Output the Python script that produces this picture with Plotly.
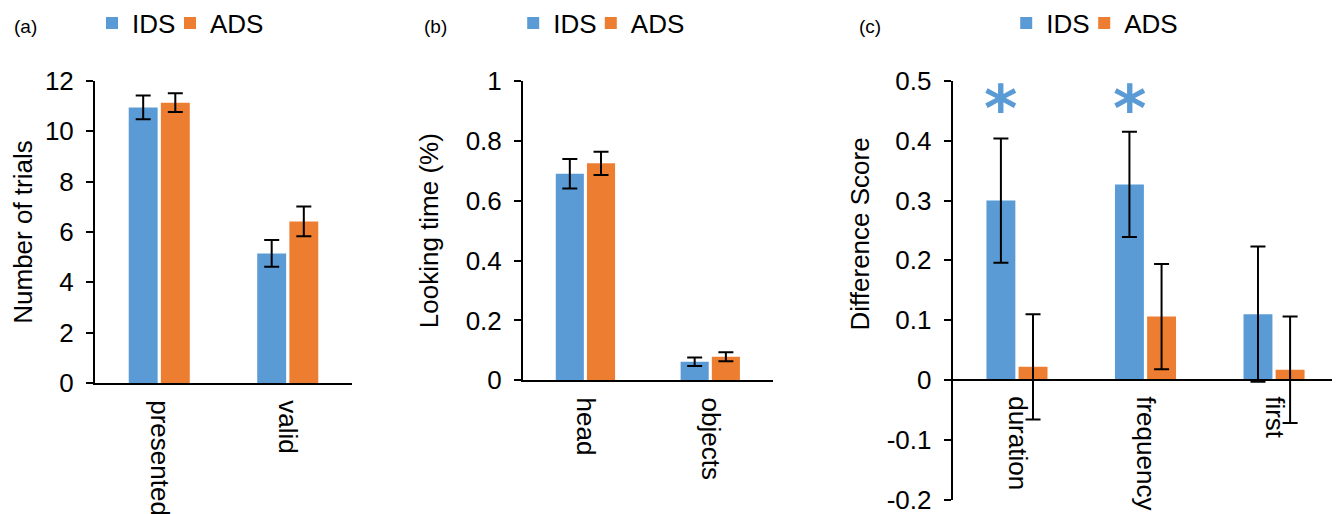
import plotly.graph_objects as go

# ---------------- data ----------------
series = ["IDS", "ADS"]
colors = ["#5B9BD5", "#ED7D31"]

cats_a = ["presented", "valid"]
ids_a = [10.95, 5.15]
ads_a = [11.14, 6.42]
ids_a_err = [0.47, 0.53]
ads_a_err = [0.37, 0.59]

cats_b = ["head", "objects"]
ids_b = [0.690, 0.062]
ads_b = [0.725, 0.079]
ids_b_err = [0.049, 0.014]
ads_b_err = [0.039, 0.015]

cats_c = ["duration", "frequency", "first"]
ids_c = [0.300, 0.327, 0.110]
ads_c = [0.022, 0.106, 0.017]
ids_c_err = [0.104, 0.088, 0.113]
ads_c_err = [0.088, 0.088, 0.089]

sig_cats = ["duration", "frequency"]   # IDS significant
sig_level = 0.473

yticks_a = [0, 2, 4, 6, 8, 10, 12]
yticks_b = [0, 0.2, 0.4, 0.6, 0.8, 1]
ylabels_b = ["0", "0.2", "0.4", "0.6", "0.8", "1"]
yticks_c = [-0.2, -0.1, 0, 0.1, 0.2, 0.3, 0.4, 0.5]
ylabels_c = ["-0.2", "-0.1", "0", "0.1", "0.2", "0.3", "0.4", "0.5"]

panel_labels = ["(a)", "(b)", "(c)"]
ytitles = ["Number of trials", "Looking time (%)", "Difference Score"]

# ---------------- figure ----------------
FONT = "Liberation Sans, Arial, Helvetica, sans-serif"
FS = 26
PAGE_OFF = 8                      # default body margin of the html page
W, H = 1340 - PAGE_OFF, 514 - PAGE_OFF
fig = go.Figure()

# one single-entry legend per series and panel
legend_ids = [["legend", "legend2"], ["legend3", "legend4"], ["legend5", "legend6"]]
legend_px = [[92, 170], [513.2, 590.8], [1006.2, 1084.2]]

panels = [
    (cats_a, [ids_a, ads_a], [ids_a_err, ads_a_err], "x", "y"),
    (cats_b, [ids_b, ads_b], [ids_b_err, ads_b_err], "x2", "y2"),
    (cats_c, [ids_c, ads_c], [ids_c_err, ads_c_err], "x3", "y3"),
]
for (cats, vals, errs, xa, ya), lgs in zip(panels, legend_ids):
    for s, v, e, c, lg in zip(series, vals, errs, colors, lgs):
        fig.add_trace(go.Bar(
            name=s, x=cats, y=v, xaxis=xa, yaxis=ya, legend=lg,
            marker=dict(color=c, line=dict(width=0)),
            error_y=dict(type="data", array=e, visible=True,
                         color="black", thickness=2, width=7.5),
        ))

def px_x(p):
    return (p - PAGE_OFF) / W

def px_y(p):
    return 1 - (p - PAGE_OFF) / H

axis_common = dict(showgrid=False, zeroline=False, showline=True,
                   linecolor="black", linewidth=2, automargin=False,
                   ticklabeloverflow="allow",
                   tickfont=dict(family=FONT, size=FS, color="black"))

yaxis_common = dict(axis_common, ticks="outside", ticklen=7, tickwidth=2,
                    tickcolor="black", ticklabelstandoff=7)
xaxis_common = dict(axis_common, ticks="", tickangle=90, ticklabelstandoff=10)

fig.update_layout(
    width=W, height=H,
    margin=dict(l=0, r=0, t=0, b=0, autoexpand=False),
    paper_bgcolor="white", plot_bgcolor="white",
    barmode="group", bargap=0.5, bargroupgap=0.1,
    font=dict(family=FONT, size=FS, color="black"),
    showlegend=True,
    xaxis=dict(xaxis_common, domain=[px_x(95), px_x(352)], anchor="y"),
    yaxis=dict(yaxis_common, domain=[px_y(383), px_y(81)], anchor="x",
               range=[0, 12], tickvals=yticks_a,
               title=dict(text=ytitles[0], standoff=16,
                          font=dict(family=FONT, size=FS))),
    xaxis2=dict(xaxis_common, domain=[px_x(523), px_x(772.7)], anchor="y2"),
    yaxis2=dict(yaxis_common, domain=[px_y(380.3), px_y(81)], anchor="x2",
                range=[0, 1], tickvals=yticks_b, ticktext=ylabels_b,
                title=dict(text=ytitles[1], standoff=20,
                           font=dict(family=FONT, size=FS))),
    xaxis3=dict(xaxis_common, domain=[px_x(952.7), px_x(1338.3)],
                anchor="free", position=px_y(380)),
    yaxis3=dict(yaxis_common, domain=[px_y(499.5), px_y(81)], anchor="x3",
                range=[-0.2, 0.5], tickvals=yticks_c, ticktext=ylabels_c),
)

legend_common = dict(orientation="h", xanchor="left", yanchor="middle",
                     font=dict(family=FONT, size=FS, color="black"),
                     bgcolor="rgba(0,0,0,0)", borderwidth=0,
                     itemclick=False, itemdoubleclick=False)
for lgs, xs in zip(legend_ids, legend_px):
    for lg, xp in zip(lgs, xs):
        fig.update_layout({lg: dict(legend_common, x=px_x(xp), y=px_y(23))})

# panel labels
for lab, xp in zip(panel_labels, [12, 421.7, 857.3]):
    fig.add_annotation(text=lab, xref="paper", yref="paper",
                       x=px_x(xp), y=px_y(26), xanchor="left", yanchor="middle",
                       showarrow=False, font=dict(family=FONT, size=19, color="black"))

# y title of panel (c)
fig.add_annotation(text=ytitles[2], xref="paper", yref="paper",
                   x=px_x(859.5), y=px_y(234), xanchor="center", yanchor="middle",
                   textangle=-90, showarrow=False,
                   font=dict(family=FONT, size=FS, color="black"))

# significance asterisks over IDS bars
for c in sig_cats:
    fig.add_annotation(text="*", x=c, y=sig_level, xref="x3", yref="y3",
                       xshift=-16, yshift=-12, showarrow=False,
                       xanchor="center", yanchor="middle",
                       font=dict(family="DejaVu Sans", size=64, weight="bold",
                                 color=colors[0]))

fig.write_html("out.html")
